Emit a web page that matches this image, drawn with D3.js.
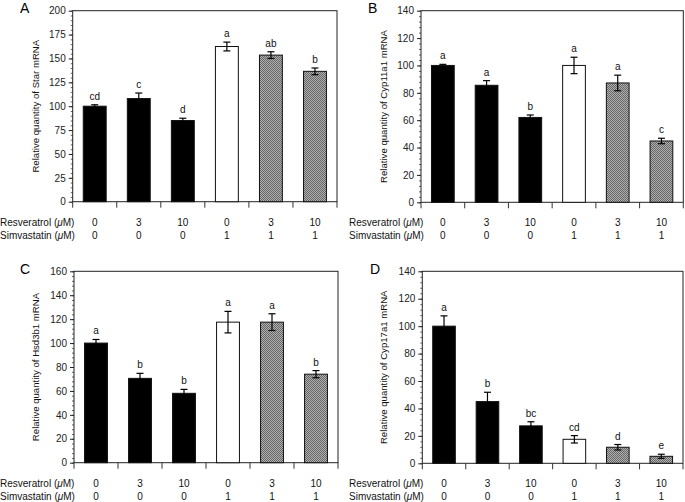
<!DOCTYPE html>
<html>
<head>
<meta charset="utf-8">
<script src="https://cdn.jsdelivr.net/npm/d3@7"></script>
<style>
  html, body { margin: 0; padding: 0; background: #fff; }
  svg { display: block; font-family: "Liberation Sans", Arial, Helvetica, sans-serif; }
</style>
</head>
<body>
<svg id="chart" width="685" height="502"></svg>
<script>
// ---------- data ----------
const resveratrol = ["0", "3", "10", "0", "3", "10"];
const simvastatin = ["0", "0", "0", "1", "1", "1"];
const barStyle = ["solid", "solid", "solid", "open", "hatch", "hatch"];

const starMean = [100, 108, 85, 162.5, 153.5, 136.5];
const starErr = [1.5, 5.8, 2.4, 4.6, 3.5, 3.5];
const starLetters = ["cd", "c", "d", "a", "ab", "b"];

const cyp11Mean = [100, 85.5, 62, 100, 87.2, 44.8];
const cyp11Err = [0.8, 3.4, 1.8, 6, 5.7, 2];
const cyp11Letters = ["a", "a", "b", "a", "a", "c"];

const hsdMean = [100, 70.5, 58, 117.5, 117.5, 74];
const hsdErr = [3, 4.2, 3.3, 9, 7, 3];
const hsdLetters = ["a", "b", "b", "a", "a", "b"];

const cyp17Mean = [100, 45, 27.3, 17.5, 11.7, 5.1];
const cyp17Err = [7.5, 6.8, 3, 2.7, 2, 1.5];
const cyp17Letters = ["a", "b", "bc", "cd", "d", "e"];

const panels = [
  { letter: "A", gene: "Star", mean: starMean, err: starErr, sig: starLetters,
    max: 200, major: 25, minor: 5,
    box: { l: 72.7, r: 337, t: 10.7, b: 201.7 }, titleX: 35, letterX: 20, letterY: 13 },
  { letter: "B", gene: "Cyp11a1", mean: cyp11Mean, err: cyp11Err, sig: cyp11Letters,
    max: 140, major: 20, minor: 4,
    box: { l: 421, r: 683.3, t: 10.7, b: 202.3 }, titleX: 383, letterX: 368, letterY: 13 },
  { letter: "C", gene: "Hsd3b1", mean: hsdMean, err: hsdErr, sig: hsdLetters,
    max: 160, major: 20, minor: 4,
    box: { l: 74, r: 338, t: 271.3, b: 462.7 }, titleX: 35, letterX: 20, letterY: 274 },
  { letter: "D", gene: "Cyp17a1", mean: cyp17Mean, err: cyp17Err, sig: cyp17Letters,
    max: 140, major: 20, minor: 4,
    box: { l: 422.3, r: 683, t: 271.3, b: 463.3 }, titleX: 383, letterX: 370, letterY: 274 }
];

const svg = d3.select("#chart");

// stipple pattern for grey bars
const defs = svg.append("defs");
const pat = defs.append("pattern").attr("id", "stip")
  .attr("width", 2).attr("height", 2).attr("patternUnits", "userSpaceOnUse");
pat.append("rect").attr("width", 2).attr("height", 2).attr("fill", "#b0b0b0");
pat.append("rect").attr("x", 0).attr("y", 0).attr("width", 1).attr("height", 1).attr("fill", "#666");
pat.append("rect").attr("x", 1).attr("y", 1).attr("width", 1).attr("height", 1).attr("fill", "#666");

const fillFor = s => s === "solid" ? "#000" : s === "open" ? "#fff" : "url(#stip)";
const idx = d3.range(resveratrol.length);

panels.forEach(p => {
  const g = svg.append("g");
  const B = p.box;
  const x = d3.scaleBand().domain(idx).range([B.l, B.r]).paddingInner(0.48).paddingOuter(0.24);
  const y = d3.scaleLinear().domain([0, p.max]).range([B.b, B.t]);

  // minor ticks
  g.append("g").attr("transform", `translate(${B.l},0)`)
    .call(d3.axisLeft(y).tickValues(d3.range(0, p.max + 0.001, p.minor)).tickSize(2).tickFormat("").tickSizeOuter(0))
    .call(a => a.select(".domain").remove())
    .call(a => a.selectAll("line").attr("stroke", "#666"));
  // major ticks
  g.append("g").attr("transform", `translate(${B.l},0)`)
    .call(d3.axisLeft(y).tickValues(d3.range(0, p.max + 0.001, p.major)).tickSize(4).tickPadding(3).tickSizeOuter(0))
    .call(a => a.select(".domain").remove())
    .call(a => a.selectAll("line").attr("stroke", "#222"))
    .call(a => a.selectAll("text").attr("font-size", "10px").attr("fill", "#222")
      .attr("font-family", "Liberation Sans, Arial, sans-serif"));

  // frame
  g.append("rect").attr("x", B.l).attr("y", B.t).attr("width", B.r - B.l).attr("height", B.b - B.t)
    .attr("fill", "none").attr("stroke", "#222").attr("stroke-width", 1);

  // category boundary ticks under x axis
  const step = x.step();
  g.selectAll(".xt").data(d3.range(idx.length + 1)).enter().append("line")
    .attr("x1", i => B.l + i * step).attr("x2", i => B.l + i * step)
    .attr("y1", B.b).attr("y2", B.b + 6)
    .attr("stroke", "#333").attr("stroke-width", 1);

  // bars
  g.selectAll(".bar").data(idx).enter().append("rect")
    .attr("x", i => x(i)).attr("width", x.bandwidth())
    .attr("y", i => y(p.mean[i])).attr("height", i => y(0) - y(p.mean[i]))
    .attr("fill", i => fillFor(barStyle[i]))
    .attr("stroke", "#111").attr("stroke-width", 1);

  // error bars
  const cap = 3.5;
  idx.forEach(i => {
    const cx = x(i) + x.bandwidth() / 2;
    const hi = y(p.mean[i] + p.err[i]), lo = y(p.mean[i] - p.err[i]);
    const eg = g.append("g").attr("stroke", "#000").attr("stroke-width", 1.2);
    eg.append("line").attr("x1", cx).attr("x2", cx).attr("y1", hi).attr("y2", lo);
    eg.append("line").attr("x1", cx - cap).attr("x2", cx + cap).attr("y1", hi).attr("y2", hi);
    eg.append("line").attr("x1", cx - cap).attr("x2", cx + cap).attr("y1", lo).attr("y2", lo);
    g.append("text").attr("x", cx).attr("y", hi - 5).attr("text-anchor", "middle")
      .attr("font-size", "10px").attr("fill", "#111").text(p.sig[i]);
  });

  // treatment rows
  const rowY1 = B.b + 24, rowY2 = B.b + 37;
  const labelX = p.letter === "A" || p.letter === "C" ? 0 : 349;
  [[rowY1, "Resveratrol", resveratrol], [rowY2, "Simvastatin", simvastatin]].forEach(([ry, name, vals]) => {
    const t = g.append("text").attr("x", labelX).attr("y", ry).attr("font-size", "10px").attr("fill", "#111");
    t.append("tspan").text(name + " (");
    t.append("tspan").attr("font-style", "italic").text("\u03BC");
    t.append("tspan").text("M)");
    g.selectAll(null).data(idx).enter().append("text")
      .attr("x", i => x(i) + x.bandwidth() / 2).attr("y", ry)
      .attr("text-anchor", "middle").attr("font-size", "10px").attr("fill", "#111")
      .text(i => vals[i]);
  });

  // y title
  const cy = (B.t + B.b) / 2;
  g.append("text").attr("transform", `translate(${p.titleX + 3.5},${cy}) rotate(-90)`)
    .attr("text-anchor", "middle").attr("font-size", "9.6px").attr("fill", "#111")
    .text(`Relative quantity of ${p.gene} mRNA`);

  // panel letter
  g.append("text").attr("x", p.letterX).attr("y", p.letterY).attr("font-size", "14px")
    .attr("fill", "#000").text(p.letter);
});
</script>
</body>
</html>
